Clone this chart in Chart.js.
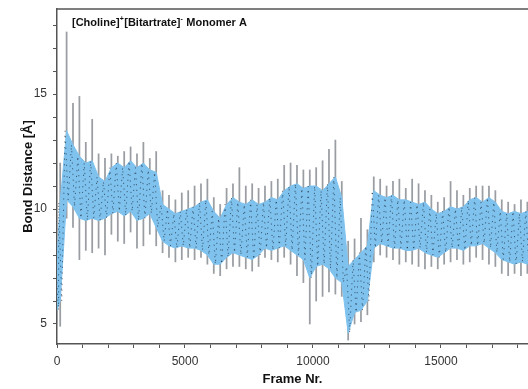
<!DOCTYPE html>
<html>
<head>
<meta charset="utf-8">
<script src="https://cdn.jsdelivr.net/npm/chart.js@4.4.1/dist/chart.umd.min.js"></script>
<style>
  html, body { margin: 0; padding: 0; background: #fff; }
</style>
</head>
<body>
<canvas id="bond-graph" width="528" height="389"></canvas>
<script>
// Sample frames (window centres, plus the two ends of the run)
const frames = [
  0, 125, 375, 625, 875, 1125, 1375, 1625, 1875, 2125, 2375,
  2625, 2875, 3125, 3375, 3625, 3875, 4125, 4375, 4625, 4875,
  5125, 5375, 5625, 5875, 6125, 6375, 6625, 6875, 7125, 7375,
  7625, 7875, 8125, 8375, 8625, 8875, 9125, 9375, 9625, 9875,
  10125, 10375, 10625, 10875, 11125, 11375, 11625, 11875, 12125, 12375,
  12625, 12875, 13125, 13375, 13625, 13875, 14125, 14375, 14625, 14875,
  15125, 15375, 15625, 15875, 16125, 16375, 16625, 16875, 17125, 17375,
  17625, 17875, 18125, 18375, 18500
];

// Dense part of the trace around each frame (Å)
const bandLow = [
  5.6, 6.0, 10.4, 10.1, 9.6, 9.5, 9.6, 9.5, 9.6, 9.8, 9.9,
  9.7, 9.9, 9.5, 9.6, 9.8, 9.2, 8.6, 8.4, 8.3, 8.4,
  8.3, 8.3, 8.2, 8.0, 7.6, 7.6, 7.9, 8.1, 8.0, 7.9,
  7.8, 8.0, 8.3, 8.2, 8.3, 8.4, 8.2, 8.0, 7.8, 7.0,
  7.5, 7.6, 7.4, 7.0, 6.8, 4.6, 5.5, 5.6, 6.0, 8.3,
  8.5, 8.4, 8.3, 8.3, 8.2, 8.2, 8.3, 8.1, 8.0, 7.9,
  8.1, 8.3, 8.3, 8.2, 8.4, 8.4, 8.5, 8.3, 8.1, 7.8,
  7.7, 7.6, 7.7, 7.6, 7.7
];
const bandHigh = [
  7.8, 10.3, 13.4, 12.8, 12.3, 12.0, 12.1, 11.4, 11.2, 11.8, 12.0,
  11.8, 12.1, 11.8, 12.0, 11.7, 11.6, 10.2, 10.0, 9.8, 9.9,
  10.0, 10.1, 10.3, 10.4, 9.9, 9.6, 10.2, 10.5, 10.3, 10.2,
  10.4, 10.2, 10.3, 10.5, 10.4, 10.8, 11.0, 11.1, 10.9, 11.0,
  11.0, 10.8, 11.1, 11.4, 10.5, 7.5, 7.8, 8.1, 8.4, 10.8,
  10.6, 10.5, 10.6, 10.4, 10.4, 10.3, 10.2, 10.3, 10.0, 9.8,
  9.9, 10.1, 10.0, 10.1, 10.4, 10.5, 10.3, 10.5, 10.3, 9.9,
  9.8, 9.9, 9.8, 9.9, 9.8
];

// Extreme excursions around each frame (Å)
const spikeLow = [
  5.0, 4.9, 9.6, 9.2, 7.8, 8.2, 8.1, 8.3, 8.0, 8.9, 8.6,
  8.5, 9.0, 8.3, 8.4, 8.9, 8.4, 8.1, 7.9, 7.7, 7.8,
  7.9, 7.8, 7.9, 7.6, 7.2, 7.1, 7.4, 7.5, 7.5, 7.4,
  7.3, 7.5, 7.9, 7.8, 7.7, 7.9, 7.6, 7.1, 6.8, 5.0,
  6.0, 6.2, 6.4, 6.3, 6.2, 4.3, 5.0, 5.1, 5.4, 7.7,
  8.0, 7.9, 7.8, 7.6, 7.7, 7.6, 7.5, 7.4, 7.5, 7.4,
  7.6, 7.7, 7.8, 7.6, 7.7, 7.9, 7.8, 7.6, 7.5, 7.2,
  7.1, 7.2, 7.1, 7.2, 7.3
];
const spikeHigh = [
  8.4, 12.0, 17.7, 14.6, 14.9, 12.9, 13.9, 12.4, 12.2, 12.4, 12.3,
  12.5, 12.7, 12.4, 12.9, 12.2, 12.5, 10.8, 10.6, 10.4, 10.7,
  10.8, 11.0, 11.1, 11.3, 10.5, 10.2, 10.9, 11.1, 11.8, 11.0,
  11.1, 10.9, 11.0, 11.2, 11.3, 11.9, 12.0, 11.9, 11.7, 11.7,
  11.8, 12.1, 12.6, 13.0, 11.2, 8.6, 8.7, 9.6, 9.1, 11.4,
  11.3, 11.0, 11.2, 11.3, 10.9, 11.3, 11.1, 10.8, 10.6, 10.3,
  10.5, 11.2, 10.8, 10.6, 10.9, 11.0, 11.0, 11.0, 10.8, 10.4,
  10.3, 10.2, 10.4, 10.3, 10.1
];

// Axis ticks
const xTicks = [0, 1000, 2000, 3000, 4000, 5000, 6000, 7000, 8000, 9000,
  10000, 11000, 12000, 13000, 14000, 15000, 16000, 17000, 18000];
const xLabels = [0, 5000, 10000, 15000];
const yTicks = [5, 6, 7, 8, 9, 10, 11, 12, 13, 14, 15, 16, 17, 18];
const yLabels = [5, 10, 15];

const FONT = "'Liberation Sans', Arial, Helvetica, sans-serif";
const AXIS = '#555';
const BLUE = '#7fc2ee';

const spikeData = frames.map((f, i) => ({ x: f, y: [spikeLow[i], spikeHigh[i]] }));
const highData = frames.map((f, i) => ({ x: f, y: bandHigh[i] }));
const lowData = frames.map((f, i) => ({ x: f, y: bandLow[i] }));

// zig-zag through the dense band so the raw trace shows as dark specks
const traceData = [];
frames.forEach((f, i) => {
  traceData.push({ x: f - 60, y: bandHigh[i] });
  traceData.push({ x: f + 60, y: bandLow[i] });
});

const frameTop = {
  id: 'frameTop',
  afterDraw(chart) {
    const { ctx, chartArea } = chart;
    ctx.save();
    ctx.strokeStyle = AXIS;
    ctx.lineWidth = 1.5;
    ctx.beginPath();
    ctx.moveTo(chartArea.left, chartArea.top);
    ctx.lineTo(chartArea.right, chartArea.top);
    ctx.stroke();
    ctx.restore();
  }
};

// "[Choline]+[Bitartrate]- Monomer A" with raised charges
const insetTitle = {
  id: 'insetTitle',
  afterDraw(chart) {
    const ctx = chart.ctx;
    const parts = [
      ['[Choline]', false], ['+', true], ['[Bitartrate]', false], ['-', true], [' Monomer A', false]
    ];
    let x = chart.chartArea.left + 15;
    const y = chart.chartArea.top + 17;
    ctx.save();
    ctx.fillStyle = '#111';
    ctx.textBaseline = 'alphabetic';
    parts.forEach(([txt, sup]) => {
      ctx.font = sup ? `bold 7px ${FONT}` : `bold 11px ${FONT}`;
      ctx.fillText(txt, x, sup ? y - 5 : y);
      x += ctx.measureText(txt).width + (sup ? 0.5 : 0);
    });
    ctx.restore();
  }
};

new Chart(document.getElementById('bond-graph'), {
  type: 'bar',
  data: {
    datasets: [
      {
        label: 'trace',
        type: 'line',
        data: traceData,
        borderColor: 'rgba(15, 25, 40, 0.6)',
        borderWidth: 1,
        borderDash: [1.2, 4.5],
        pointRadius: 0,
        tension: 0,
        order: 1
      },
      {
        label: 'band top',
        type: 'line',
        data: highData,
        borderColor: BLUE,
        borderWidth: 1,
        backgroundColor: BLUE,
        fill: '+1',
        pointRadius: 0,
        tension: 0,
        order: 2
      },
      {
        label: 'band bottom',
        type: 'line',
        data: lowData,
        borderColor: BLUE,
        borderWidth: 1,
        pointRadius: 0,
        tension: 0,
        fill: false,
        order: 2
      },
      {
        label: 'spikes',
        data: spikeData,
        backgroundColor: '#9a9ea3',
        barThickness: 1.1,
        grouped: false,
        order: 3
      }
    ]
  },
  options: {
    responsive: false,
    animation: false,
    layout: { padding: { top: 9, right: 0, left: 0, bottom: 0 } },
    plugins: { legend: { display: false }, tooltip: { enabled: false } },
    scales: {
      x: {
        type: 'linear',
        min: 0,
        max: 18400,
        offset: false,
        afterBuildTicks: s => { s.ticks = xTicks.map(v => ({ value: v })); },
        afterFit: s => { s.height = 45; s.paddingRight = 0; },
        ticks: {
          autoSkip: false,
          maxRotation: 0,
          padding: 6,
          color: '#333',
          font: { family: FONT, size: 12 },
          callback: v => xLabels.includes(v) ? String(v) : ''
        },
        grid: { drawOnChartArea: false, offset: false, tickLength: 4, color: AXIS, tickWidth: 1 },
        border: { color: AXIS, width: 1.5 },
        title: {
          display: true,
          text: 'Frame Nr.',
          color: '#111',
          font: { family: FONT, size: 13, weight: 'bold' },
          padding: { top: 0, bottom: 2 }
        }
      },
      y: {
        min: 4.13,
        max: 18.7,
        afterBuildTicks: s => { s.ticks = yTicks.map(v => ({ value: v })); },
        afterFit: s => { s.width = 57; s.paddingTop = 0; s.paddingBottom = 0; },
        ticks: {
          autoSkip: false,
          padding: 6,
          color: '#333',
          font: { family: FONT, size: 12 },
          callback: v => yLabels.includes(v) ? String(v) : ''
        },
        grid: { drawOnChartArea: false, tickLength: 4, color: AXIS, tickWidth: 1 },
        border: { color: AXIS, width: 1.5 },
        title: {
          display: true,
          text: 'Bond Distance [Å]',
          color: '#111',
          font: { family: FONT, size: 13, weight: 'bold' },
          padding: { top: 21, bottom: 0 }
        }
      }
    }
  },
  plugins: [frameTop, insetTitle]
});
</script>
</body>
</html>
